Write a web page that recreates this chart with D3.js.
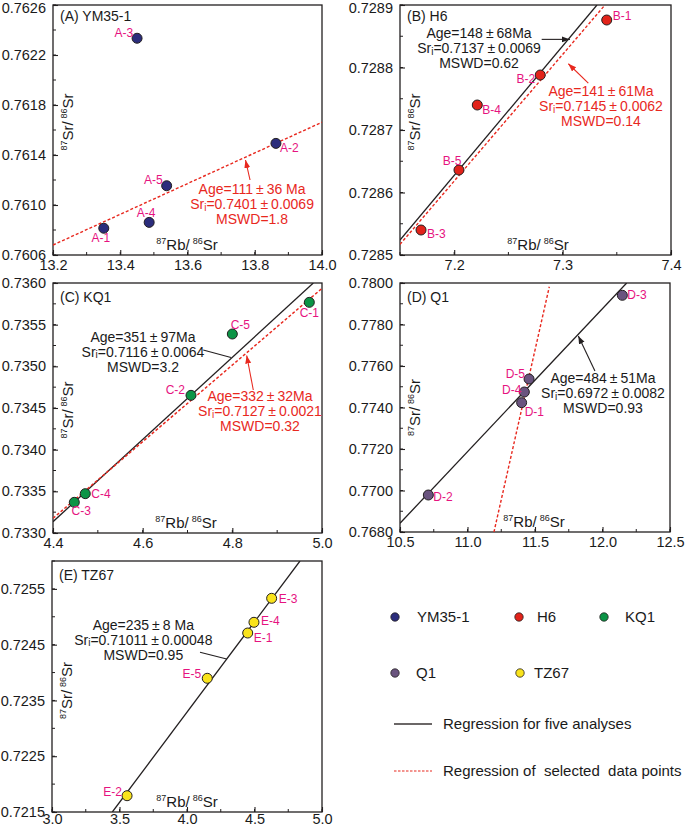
<!DOCTYPE html>
<html><head><meta charset="utf-8">
<script src="https://cdn.jsdelivr.net/npm/d3@7"></script>
<style>
body{margin:0;background:#fff}
svg{display:block;font-family:"Liberation Sans",Arial,sans-serif}
</style>
</head><body>
<svg id="c" width="685" height="826"></svg>
<script>
// ---------------- DATA ----------------
const seriesNames = ["YM35-1", "H6", "KQ1", "Q1", "TZ67"];
const panelTitles = ["(A) YM35-1", "(B) H6", "(C) KQ1", "(D) Q1", "(E) TZ67"];

const pointsA = [
  {id:"A-1", x:13.351, y:0.760814},
  {id:"A-2", x:13.863, y:0.761493},
  {id:"A-3", x:13.450, y:0.762334},
  {id:"A-4", x:13.486, y:0.760861},
  {id:"A-5", x:13.538, y:0.761154}
];
const pointsB = [
  {id:"B-1", x:7.3407, y:0.728876},
  {id:"B-2", x:7.2794, y:0.728788},
  {id:"B-3", x:7.1694, y:0.728540},
  {id:"B-4", x:7.2213, y:0.728740},
  {id:"B-5", x:7.2044, y:0.728636}
];
const pointsC = [
  {id:"C-1", x:4.9717, y:0.735768},
  {id:"C-2", x:4.7078, y:0.734652},
  {id:"C-3", x:4.4475, y:0.733368},
  {id:"C-4", x:4.4720, y:0.733472},
  {id:"C-5", x:4.8000, y:0.735388}
];
const pointsD = [
  {id:"D-1", x:11.401, y:0.774232},
  {id:"D-2", x:10.710, y:0.769783},
  {id:"D-3", x:12.147, y:0.779407},
  {id:"D-4", x:11.421, y:0.774747},
  {id:"D-5", x:11.456, y:0.775373}
];
const pointsE = [
  {id:"E-1", x:4.4496, y:0.724709},
  {id:"E-2", x:3.556,  y:0.721792},
  {id:"E-3", x:4.627,  y:0.725331},
  {id:"E-4", x:4.496,  y:0.724901},
  {id:"E-5", x:4.150,  y:0.723897}
];

// regression lines (end points, data units)
const blackLineB = [[7.15, 0.728524], [7.3317, 0.7289]];
const redLineB   = [[7.15, 0.728517], [7.3391, 0.7289]];
const redLineA   = [[13.2, 0.76068], [14.0, 0.761662]];
const blackLineC = [[4.4, 0.733136], [4.9806, 0.736]];
const redLineC   = [[4.4, 0.733176], [5.0, 0.735936]];
const blackLineD = [[10.5, 0.76842], [12.179, 0.78]];
const redLineD   = [[11.196, 0.768], [11.606, 0.77982]];
const blackLineE = [[3.447, 0.7215], [4.837, 0.726]];

// annotation texts
const annoA    = ["Age=111±36 Ma", "Sri=0.7401±0.0069", "MSWD=1.8"];
const annoBblk = ["Age=148±68Ma", "Sri=0.7137±0.0069", "MSWD=0.62"];
const annoBred = ["Age=141±61Ma", "Sri=0.7145±0.0062", "MSWD=0.14"];
const annoCblk = ["Age=351±97Ma", "Sri=0.7116±0.0064", "MSWD=3.2"];
const annoCred = ["Age=332±32Ma", "Sri=0.7127±0.0021", "MSWD=0.32"];
const annoD    = ["Age=484±51Ma", "Sri=0.6972±0.0082", "MSWD=0.93"];
const annoE    = ["Age=235±8 Ma", "Sri=0.71011±0.00048", "MSWD=0.95"];

// tick values
const xTicksA = [13.2, 13.4, 13.6, 13.8, 14.0];
const yTicksA = [0.7606, 0.7610, 0.7614, 0.7618, 0.7622, 0.7626];
const xTicksB = [7.2, 7.3, 7.4];
const yTicksB = [0.7285, 0.7286, 0.7287, 0.7288, 0.7289];
const xTicksC = [4.4, 4.6, 4.8, 5.0];
const yTicksC = [0.7330, 0.7335, 0.7340, 0.7345, 0.7350, 0.7355, 0.7360];
const xTicksD = [10.5, 11.0, 11.5, 12.0, 12.5];
const yTicksD = [0.7680, 0.7700, 0.7720, 0.7740, 0.7760, 0.7780, 0.7800];
const xTicksE = [3.0, 3.5, 4.0, 4.5, 5.0];
const yTicksE = [0.7215, 0.7225, 0.7235, 0.7245, 0.7255];

const legendLineLabels = ["Regression for five analyses", "Regression of  selected  data points"];

// ---------------- STYLE / LAYOUT ----------------
const colors = {"YM35-1":"#2b2d7c", "H6":"#e2231a", "KQ1":"#0c9446", "Q1":"#6a547f", "TZ67":"#f9e31c"};
const RED = "#e8281e", BLACK = "#231f20", MAG = "#e6137f";

const labelPos = {
  "A-1":["middle",-3,10], "A-2":["start",4,5], "A-3":["end",-4,-5], "A-4":["middle",-3,-9], "A-5":["end",-4,-6],
  "B-1":["start",6,-4], "B-2":["end",-5,4], "B-3":["start",6,4], "B-4":["start",5,5], "B-5":["middle",-7,-9],
  "C-1":["middle",0,11], "C-2":["end",-6,-5], "C-3":["middle",7,9], "C-4":["start",6,0], "C-5":["middle",8,-9],
  "D-1":["start",3,9], "D-2":["start",5,2], "D-3":["start",5,0], "D-4":["end",-3,-2], "D-5":["end",-4,-5],
  "E-1":["start",6,5], "E-2":["end",-5,-4], "E-3":["start",7,1], "E-4":["start",7,-1], "E-5":["end",-6,-4]
};

const panels = [
  {frame:{l:53,t:5,r:322,b:255}, xd:[13.2,14.0], yd:[0.7606,0.7626], xt:xTicksA, xm:0.1, yt:yTicksA, ym:0.0002, xf:".1f",
   pts:pointsA, series:"YM35-1", title:panelTitles[0], titleDy:11, lines:[{d:redLineA,red:true}],
   annos:[{lines:annoA, red:true, at:[13.792,0.761128], arrow:[[13.786,0.7612],[13.7725,0.76136]], head:true}],
   xlab:134, ylab:-8, xpad:5},
  {frame:{l:400,t:5,r:671,b:255}, xd:[7.15,7.4], yd:[0.7285,0.7289], xt:xTicksB, xm:0.05, yt:yTicksB, ym:0.00005, xf:".1f",
   pts:pointsB, series:"H6", title:panelTitles[1], titleDy:11, lines:[{d:blackLineB,red:false},{d:redLineB,red:true}],
   annos:[{lines:annoBblk, red:false, at:[7.2229,0.728855], arrow:[[7.2807,0.728845],[7.3068,0.728845]], head:true},
          {lines:annoBred, red:true, at:[7.3354,0.728762], arrow:[[7.3237,0.728775],[7.3053,0.728806]], head:true}],
   xlab:138, ylab:-8, xpad:5},
  {frame:{l:53,t:283,r:322,b:533}, xd:[4.4,5.0], yd:[0.733,0.736], xt:xTicksC, xm:0.1, yt:yTicksC, ym:0.00025, xf:".1f",
   pts:pointsC, series:"KQ1", title:panelTitles[2], titleDy:13.5, lines:[{d:blackLineC,red:false},{d:redLineC,red:true}],
   annos:[{lines:annoCblk, red:false, at:[4.6007,0.735356], arrow:[[4.735,0.735196],[4.797,0.735105]], head:false},
          {lines:annoCred, red:true, at:[4.8617,0.734644], arrow:[[4.8468,0.734716],[4.832,0.735130]], head:true}],
   xlab:133, ylab:2, xpad:5},
  {frame:{l:400,t:283,r:670,b:532}, xd:[10.5,12.5], yd:[0.768,0.780], xt:xTicksD, xm:0.25, yt:yTicksD, ym:0.001, xf:".1f",
   pts:pointsD, series:"Q1", title:panelTitles[3], titleDy:13.5, lines:[{d:blackLineD,red:false},{d:redLineD,red:true}],
   annos:[{lines:annoD, red:false, at:[12.0037,0.775407], arrow:[[11.944,0.775759],[11.821,0.77745]], head:true}],
   xlab:134, ylab:0, xpad:5},
  {frame:{l:52,t:561,r:322,b:812}, xd:[3.0,5.0], yd:[0.7215,0.7260], xt:xTicksE, xm:0.25, yt:yTicksE, ym:0.0005, xf:".1f",
   pts:pointsE, series:"TZ67", title:panelTitles[4], titleDy:13.5, lines:[{d:blackLineE,red:false}],
   annos:[{lines:annoE, red:false, at:[3.6763,0.724853], arrow:[[4.0963,0.724363],[4.2941,0.724243]], head:false}],
   xlab:135, ylab:4, xpad:2}
];

// ---------------- DRAW ----------------
const svg = d3.select("#c");
const defs = svg.append("defs");
[["arrBlack",BLACK],["arrRed",RED]].forEach(([id,c])=>{
  defs.append("marker").attr("id",id).attr("markerUnits","userSpaceOnUse")
    .attr("markerWidth",10).attr("markerHeight",8).attr("refX",8).attr("refY",3)
    .attr("orient","auto").append("path").attr("d","M0,0 L8,3 L0,6 Z").attr("fill",c);
});

function addSup(textSel, parts, mainSize, supSize){
  parts.forEach(([sup, main], i)=>{
    textSel.append("tspan").attr("font-size",supSize).attr("dy", -6).attr("dx", i>0 ? 3 : 0).text(sup);
    textSel.append("tspan").attr("font-size",mainSize).attr("dy", 6).text(main);
  });
}

function annoLine(t, str){
  let rest = str;
  const pm = (parts)=>{
    t.append("tspan").attr("dx",3).text("±");
    t.append("tspan").attr("dx",3).text(parts[1]);
  };
  if (rest.startsWith("Sri")) {
    t.append("tspan").text("Sr");
    t.append("tspan").attr("font-size",10).attr("dy",1.5).text("i");
    rest = rest.slice(3);
    const parts = rest.split("±");
    t.append("tspan").attr("dy",-1.5).text(parts[0]);
    pm(parts);
  } else if (rest.includes("±")) {
    const parts = rest.split("±");
    t.append("tspan").text(parts[0]);
    pm(parts);
  } else {
    t.append("tspan").text(rest);
  }
}

panels.forEach((p, pi)=>{
  const f = p.frame;
  const x = d3.scaleLinear().domain(p.xd).range([f.l, f.r]);
  const y = d3.scaleLinear().domain(p.yd).range([f.b, f.t]);
  const g = svg.append("g");
  const clipId = "clip"+pi;
  defs.append("clipPath").attr("id",clipId).append("rect")
    .attr("x",f.l).attr("y",f.t).attr("width",f.r-f.l).attr("height",f.b-f.t);

  // minor ticks
  const xMinor = d3.range(0, Math.round((p.xd[1]-p.xd[0])/p.xm)+1).map(i=>p.xd[0]+i*p.xm);
  const yMinor = d3.range(0, Math.round((p.yd[1]-p.yd[0])/p.ym)+1).map(i=>p.yd[0]+i*p.ym);
  g.selectAll(null).data(xMinor).join("line")
    .attr("x1",d=>x(d)).attr("x2",d=>x(d)).attr("y1",f.b).attr("y2",f.b-3)
    .attr("stroke",BLACK).attr("stroke-width",1);
  g.selectAll(null).data(yMinor).join("line")
    .attr("y1",d=>y(d)).attr("y2",d=>y(d)).attr("x1",f.l).attr("x2",f.l+3)
    .attr("stroke",BLACK).attr("stroke-width",1);

  // axes (major ticks inward)
  const xAxis = d3.axisBottom(x).tickValues(p.xt).tickFormat(d3.format(p.xf)).tickSizeInner(-5).tickSizeOuter(0).tickPadding(p.xpad);
  const yAxis = d3.axisLeft(y).tickValues(p.yt).tickFormat(d3.format(".4f")).tickSizeInner(-5).tickSizeOuter(0).tickPadding(7);
  const gx = g.append("g").attr("transform",`translate(0,${f.b})`).call(xAxis);
  const gy = g.append("g").attr("transform",`translate(${f.l},0)`).call(yAxis);
  [gx,gy].forEach(a=>{
    a.select(".domain").remove();
    a.selectAll(".tick line").attr("stroke",BLACK).attr("stroke-width",1.1);
    a.selectAll(".tick text").attr("font-size",14.5).attr("fill","#1a1a1a")
      .attr("font-family","'Liberation Sans',Arial,sans-serif");
  });
  // keep the top-most y label inside the picture
  gy.selectAll(".tick text").filter(d=>y(d) < 12).attr("dy","0.32em").attr("y", 3);

  // frame
  g.append("rect").attr("x",f.l).attr("y",f.t).attr("width",f.r-f.l).attr("height",f.b-f.t)
    .attr("fill","none").attr("stroke",BLACK).attr("stroke-width",1.3);

  // title
  g.append("text").attr("x",f.l+7).attr("y",f.t+p.titleDy+5).attr("font-size",14).attr("fill","#1a1a1a").text(p.title);

  // axis labels
  const xl = g.append("text").attr("x",f.l+p.xlab).attr("y",f.b-5).attr("text-anchor","middle").attr("fill","#1a1a1a");
  addSup(xl, [["87","Rb/"],["86","Sr"]], 15, 9);
  const cy = (f.t+f.b)/2 + p.ylab;
  const yl = g.append("text").attr("transform",`translate(${f.l+20},${cy}) rotate(-90)`)
    .attr("text-anchor","middle").attr("fill","#1a1a1a");
  addSup(yl, [["87","Sr/"],["86","Sr"]], 15, 9);

  // regression lines
  const lineGen = d3.line().x(d=>x(d[0])).y(d=>y(d[1]));
  p.lines.forEach(l=>{
    g.append("path").attr("d",lineGen(l.d)).attr("clip-path",`url(#${clipId})`)
      .attr("fill","none").attr("stroke",l.red?RED:BLACK).attr("stroke-width",l.red?1.4:1.3)
      .attr("stroke-dasharray",l.red?"3,2":null);
  });

  // annotations
  p.annos.forEach(a=>{
    const col = a.red?RED:BLACK;
    const ax = x(a.at[0]), ay = y(a.at[1]);
    a.lines.forEach((s,i)=>{
      const t = g.append("text").attr("x",ax).attr("y",ay+5+i*15).attr("text-anchor","middle")
        .attr("font-size",14).attr("fill",a.red?RED:"#1a1a1a");
      annoLine(t, s);
    });
    g.append("path").attr("d",lineGen(a.arrow)).attr("stroke",col).attr("stroke-width",1.1).attr("fill","none")
      .attr("marker-end",a.head?`url(#${a.red?"arrRed":"arrBlack"})`:null);
  });

  // points
  g.selectAll(null).data(p.pts).join("circle")
    .attr("cx",d=>x(d.x)).attr("cy",d=>y(d.y)).attr("r",5)
    .attr("fill",colors[p.series]).attr("stroke",BLACK).attr("stroke-width",1);
  g.selectAll(null).data(p.pts).join("text")
    .attr("x",d=>x(d.x)+labelPos[d.id][1]).attr("y",d=>y(d.y)+labelPos[d.id][2]+4)
    .attr("text-anchor",d=>labelPos[d.id][0]).attr("font-size",12).attr("fill",MAG).text(d=>d.id);
});

// ---------------- LEGEND ----------------
const leg = svg.append("g");
const legPos = [[395,417,617],[519,537,617],[604,625,617],[395,416,673],[520,534,673]];
seriesNames.forEach((s,i)=>{
  const [cx,tx,cy] = legPos[i];
  leg.append("circle").attr("cx",cx).attr("cy",cy).attr("r",4.2).attr("fill",colors[s])
    .attr("stroke",BLACK).attr("stroke-width",0.8);
  leg.append("text").attr("x",tx).attr("y",cy+5).attr("font-size",15).attr("fill","#1a1a1a").text(s);
});
legendLineLabels.forEach((s,i)=>{
  const ly = 724 + i*47;
  leg.append("line").attr("x1",394).attr("x2",432).attr("y1",ly).attr("y2",ly)
    .attr("stroke",i?RED:"#3a3535").attr("stroke-width",i?1.2:1.4).attr("stroke-dasharray",i?"2.5,1.5":null);
  leg.append("text").attr("x",443).attr("y",ly+5).attr("font-size",15).attr("fill","#1a1a1a")
    .attr("xml:space","preserve").style("white-space","pre").text(s);
});
</script>
</body></html>
